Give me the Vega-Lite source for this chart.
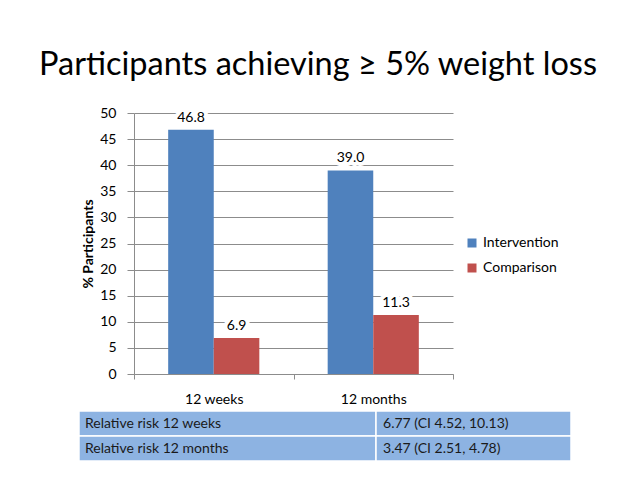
{
  "$schema": "https://vega.github.io/schema/vega-lite/v6.json",
  "background": "white",
  "padding": {"left": 38, "top": 48, "right": 5, "bottom": 5},
  "title": {"text": "Participants achieving ≥ 5% weight loss", "fontSize": 32.5, "font": "Lato", "fontWeight": "normal", "color": "black", "anchor": "middle", "offset": 25, "dx": -7},
  "config": {"view": {"stroke": null}, "font": "Lato"},
  "spacing": 4,
  "vconcat": [
    {
      "width": 319,
      "height": 261,
      "data": {"values": [
        {"period": "12 weeks", "group": "Intervention", "pct": 46.8},
        {"period": "12 weeks", "group": "Comparison", "pct": 6.9},
        {"period": "12 months", "group": "Intervention", "pct": 39.0},
        {"period": "12 months", "group": "Comparison", "pct": 11.3}
      ]},
      "encoding": {
        "x": {"field": "period", "type": "nominal", "sort": ["12 weeks", "12 months"],
              "scale": {"paddingInner": 0, "paddingOuter": 0},
              "axis": {"title": null, "labelAngle": 0, "tickBand": "extent", "domainColor": "#8c8c8c", "tickColor": "#8c8c8c", "tickSize": 5, "labelPadding": 13, "labelFontSize": 14, "labelColor": "black", "labelFont": "Lato", "grid": false}},
        "xOffset": {"field": "group", "type": "nominal", "sort": ["Intervention", "Comparison"], "scale": {"paddingOuter": 0.75, "paddingInner": 0}},
        "y": {"field": "pct", "type": "quantitative", "scale": {"domain": [0, 50], "nice": false},
              "axis": {"title": "% Participants", "values": [0, 5, 10, 15, 20, 25, 30, 35, 40, 45, 50], "titleFontSize": 14, "titleFontWeight": "bold", "titleColor": "black", "titleFont": "Lato", "titlePadding": 4, "labelFontSize": 14, "labelColor": "black", "labelFont": "Lato", "tickSize": 7, "labelPadding": 11, "grid": true, "gridColor": "#8c8c8c", "domainColor": "#8c8c8c", "tickColor": "#8c8c8c"}}
      },
      "layer": [
        {
          "mark": {"type": "bar"},
          "encoding": {
            "color": {"field": "group", "type": "nominal", "sort": ["Intervention", "Comparison"],
                      "scale": {"domain": ["Intervention", "Comparison"], "range": ["#4F81BD", "#C0504D"]},
                      "legend": {"title": null, "orient": "none", "legendX": 331, "legendY": 123, "symbolType": "square", "symbolSize": 81, "symbolStrokeWidth": 0, "labelFontSize": 14, "labelColor": "black", "labelFont": "Lato", "rowPadding": 11, "labelOffset": 4}}
          }
        },
        {
          "mark": {"type": "text", "fill": "white", "stroke": "white", "strokeWidth": 8, "dy": -8, "fontSize": 14, "baseline": "alphabetic", "font": "Lato"},
          "encoding": {"text": {"field": "pct", "type": "quantitative", "format": ".1f"}}
        },
        {
          "mark": {"type": "text", "fill": "black", "dy": -8, "fontSize": 14, "baseline": "alphabetic", "font": "Lato"},
          "encoding": {"text": {"field": "pct", "type": "quantitative", "format": ".1f"}}
        }
      ]
    },
    {
      "width": 437,
      "height": 50,
      "data": {"values": [
        {"measure": "Relative risk 12 weeks", "value": "6.77 (CI 4.52, 10.13)"},
        {"measure": "Relative risk 12 months", "value": "3.47 (CI 2.51, 4.78)"}
      ]},
      "encoding": {
        "y": {"field": "measure", "type": "nominal", "sort": null, "scale": {"paddingInner": 0, "paddingOuter": 0}, "axis": null}
      },
      "layer": [
        {
          "mark": {"type": "rect", "fill": "#8DB3E2", "stroke": "white", "strokeWidth": 1.5},
          "encoding": {
            "x": {"datum": -0.1259, "type": "quantitative", "scale": {"domain": [0, 1], "nice": false, "zero": false}, "axis": null},
            "x2": {"datum": 0.5538}
          }
        },
        {
          "mark": {"type": "rect", "fill": "#8DB3E2", "stroke": "white", "strokeWidth": 1.5},
          "encoding": {
            "x": {"datum": 0.5538, "type": "quantitative"},
            "x2": {"datum": 1}
          }
        },
        {
          "mark": {"type": "text", "align": "left", "dx": 6, "fontSize": 14, "color": "#1a1a1a", "font": "Lato"},
          "encoding": {
            "x": {"datum": -0.1259, "type": "quantitative"},
            "text": {"field": "measure"}
          }
        },
        {
          "mark": {"type": "text", "align": "left", "dx": 7, "fontSize": 14, "color": "#1a1a1a", "font": "Lato"},
          "encoding": {
            "x": {"datum": 0.5538, "type": "quantitative"},
            "text": {"field": "value"}
          }
        }
      ]
    }
  ]
}
